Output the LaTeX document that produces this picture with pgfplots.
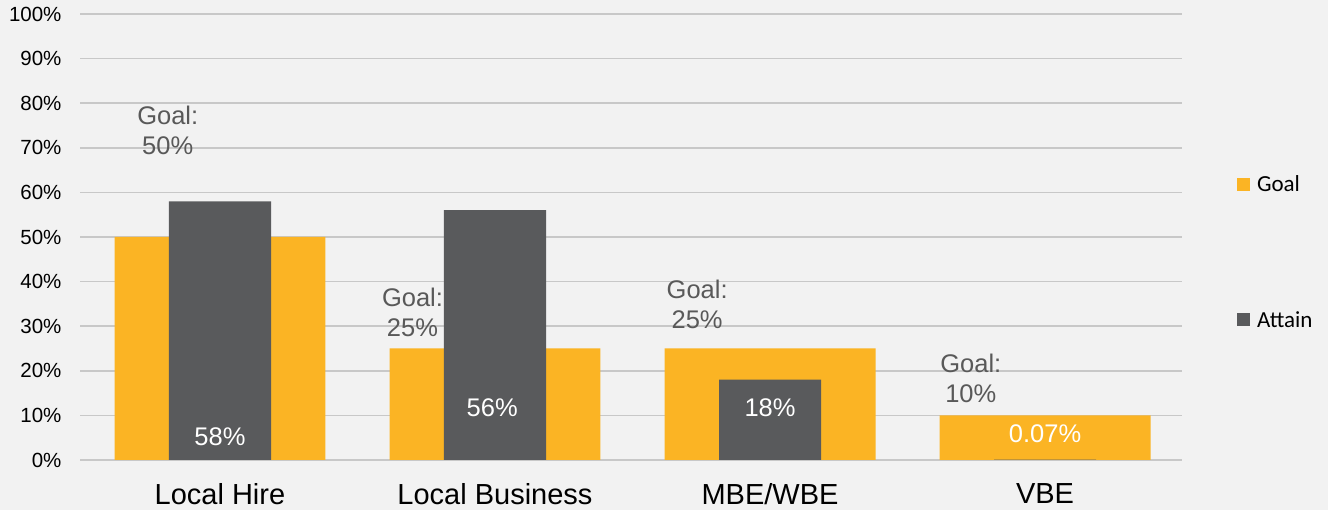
\documentclass[border=0pt]{standalone}
\usepackage{pgfplots}
\pgfplotsset{compat=1.18}
\usepackage{fontspec}
\setmainfont{Liberation Sans}
\newfontfamily\calfont{Carlito}
\definecolor{goalc}{RGB}{251,180,36}
\definecolor{attc}{RGB}{89,90,92}
\definecolor{bgc}{RGB}{242,242,242}
\definecolor{gridc}{RGB}{200,200,200}
\definecolor{lblc}{RGB}{89,89,89}
\begin{document}
\begin{tikzpicture}[x=1pt,y=1pt]
\fill[bgc] (0,0) rectangle (1328,510);
\begin{axis}[
  at={(80pt,50pt)}, anchor=south west,
  scale only axis, width=1102pt, height=446pt,
  xmin=-0.509, xmax=3.498, ymin=0, ymax=100,
  axis line style={draw=none},
  major tick style={draw=none},
  ymajorgrids, grid style={gridc, line width=1.5pt},
  xtick={0,1,2,3},
  xticklabels={Local Hire, Local Business, MBE/WBE, VBE},
  xticklabel style={font=\fontsize{29}{33}\selectfont, text=black, yshift=-20pt},
  ytick={0,10,...,100},
  yticklabels={0\%,10\%,20\%,30\%,40\%,50\%,60\%,70\%,80\%,90\%,100\%},
  yticklabel style={font=\fontsize{20.5}{24}\selectfont, text=black, xshift=-15pt},
  legend style={at={(1.047,0.466)}, anchor=west, draw=none, fill=none,
    font=\calfont\fontsize{23}{27}\selectfont, row sep=114pt,
    /tikz/every odd column/.append style={column sep=5pt}},
  legend cell align=left,
  legend image code/.code={\fill[#1] (0pt,-6.5pt) rectangle (13pt,6.5pt);},
]
\addplot[ybar, bar shift=0pt, bar width=0.767, fill=goalc, draw=none]
  coordinates {(0,50) (1,25) (2,25) (3,10)};
\addlegendentry{Goal}
\addplot[ybar, bar shift=0pt, bar width=0.371, fill=attc, draw=none]
  coordinates {(0,58) (1,56) (2,18) (3,0.07)};
\addlegendentry{Attain}
\addplot[draw=none, nodes near coords, point meta=explicit symbolic,
  nodes near coords style={anchor=center, align=center, text=lblc,
    font=\fontsize{25.5}{30}\selectfont}]
  coordinates {(-0.19,74) [{Goal:\\50\%}] (0.70,33) [{Goal:\\25\%}]
               (1.735,35) [{Goal:\\25\%}] (2.73,18.4) [{Goal:\\10\%}]};
\addplot[draw=none, nodes near coords, point meta=explicit symbolic,
  nodes near coords style={anchor=center, text=white,
    font=\fontsize{25.5}{30}\selectfont}]
  coordinates {(0,5.2) [58\%] (0.99,11.7) [56\%] (2,11.7) [18\%] (3,6) [0.07\%]};
\end{axis}
\pgfresetboundingbox
\useasboundingbox (0,0) rectangle (1328,510);
\end{tikzpicture}
\end{document}
